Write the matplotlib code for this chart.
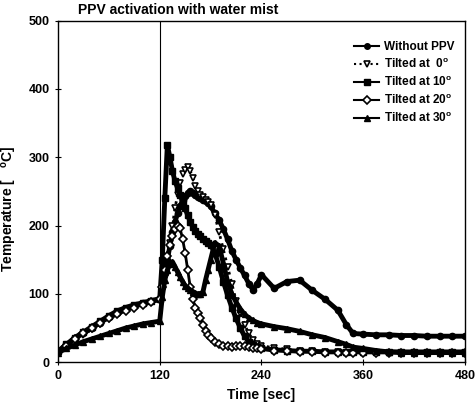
import matplotlib
matplotlib.use("Agg")
import matplotlib.pyplot as plt

plt.rcParams['font.family'] = ['Liberation Sans', 'DejaVu Sans']
plt.rcParams['font.weight'] = 'bold'
plt.rcParams['axes.labelweight'] = 'bold'
plt.rcParams['mathtext.fontset'] = 'custom'
plt.rcParams['mathtext.rm'] = 'Liberation Sans:bold'

# time axis shared by all curves [sec]
time = [0, 10, 20, 30, 40, 50, 60, 70, 80, 90, 100, 110, 120,
        123, 126, 129, 132, 135, 138, 141, 144, 147, 150, 153, 156, 159, 162, 165, 168, 171, 174, 177, 180,
        185, 190, 195, 200, 205, 210, 215, 220, 225, 230, 235, 240,
        255, 270, 285, 300, 315, 330, 340, 348, 360, 375, 390, 405, 420, 435, 450, 465, 480]

without_ppv = [15, 25, 35, 42, 50, 58, 66, 72, 78, 82, 86, 89, 92,
               110, 130, 150, 170, 190, 205, 218, 228, 237, 243, 247, 250, 248, 245, 242, 240, 238, 236, 233, 228,
               218, 208, 195, 180, 163, 150, 138, 127, 115, 106, 115, 128,
               108, 118, 120, 105, 92, 76, 55, 42, 41, 40, 40, 39, 39, 38, 38, 38, 38]

tilt_0 = [14, 22, 32, 40, 48, 56, 63, 70, 76, 80, 84, 88, 90,
          105, 125, 150, 175, 200, 225, 245, 262, 275, 282, 286, 280, 270, 258, 250, 245, 242, 238, 235, 230,
          215, 190, 165, 140, 115, 90, 72, 55, 42, 33, 27, 24,
          21, 19, 17, 16, 15, 15, 14, 14, 14, 14, 14, 14, 14, 14, 14, 14, 14]

tilt_10 = [16, 26, 36, 44, 52, 60, 68, 75, 80, 84, 87, 90, 93,
           150, 240, 318, 300, 280, 265, 255, 245, 235, 225, 215, 205, 198, 192, 188, 185, 180, 178, 175, 172,
           160, 140, 118, 98, 80, 64, 50, 38, 30, 25, 22, 20,
           18, 17, 16, 16, 15, 15, 15, 15, 15, 15, 15, 15, 15, 15, 15, 15, 15]

tilt_20 = [15, 24, 34, 42, 50, 57, 64, 70, 75, 80, 84, 88, 92,
           110, 135, 155, 172, 185, 195, 200, 196, 180, 160, 135, 110, 92, 80, 72, 65, 55, 46, 40, 35,
           30, 27, 24, 23, 22, 23, 24, 23, 22, 21, 20, 19,
           17, 16, 15, 15, 14, 14, 14, 14, 14, 14, 14, 14, 14, 14, 14, 14, 14]

tilt_30 = [14, 20, 25, 30, 34, 38, 42, 46, 50, 53, 56, 58, 60,
           95, 120, 135, 143, 147, 140, 132, 125, 118, 112, 108, 105, 103, 101, 100, 100, 103, 120, 135, 150,
           175, 170, 145, 118, 100, 88, 78, 70, 65, 61, 58, 56,
           52, 49, 45, 40, 36, 30, 26, 22, 20, 17, 15, 14, 14, 14, 14, 14, 14]

x_ticks = [0, 120, 240, 360, 480]
y_ticks = [0, 100, 200, 300, 400, 500]

fig = plt.figure(figsize=(4.75, 4.12), dpi=100)
ax = fig.add_axes([0.122, 0.121, 0.857, 0.829])

ax.plot(time, without_ppv, color='k', lw=3.5, marker='o', ms=4.5, label='Without PPV')
ax.plot(time, tilt_0, color='k', lw=2, ls=':', marker='v', ms=4.5, mfc='white', mew=1.2,
        label='Tilted at  0$^\\mathrm{o}$')
ax.plot(time, tilt_10, color='k', lw=3.5, marker='s', ms=4.5, label='Tilted at 10$^\\mathrm{o}$')
ax.plot(time, tilt_20, color='k', lw=2, marker='D', ms=4, mfc='white', mew=1.2,
        label='Tilted at 20$^\\mathrm{o}$')
ax.plot(time, tilt_30, color='k', lw=3.5, marker='^', ms=4, label='Tilted at 30$^\\mathrm{o}$')

ax.axvline(120, color='k', lw=0.8)
ax.text(24, 506, 'PPV activation with water mist', fontsize=10, ha='left', va='bottom')

ax.set_xlim(0, 480)
ax.set_ylim(0, 500)
ax.set_xticks(x_ticks)
ax.set_yticks(y_ticks)
ax.tick_params(direction='inout', length=5, width=0.8, labelsize=9)
for s in ax.spines.values():
    s.set_linewidth(1.0)

ax.set_xlabel('Time [sec]', fontsize=10)
ax.set_ylabel('Temperature [   $^\\mathrm{o}$C]', fontsize=10)
ax.yaxis.set_label_coords(-0.095, 0.45)

leg = ax.legend(loc='upper left', bbox_to_anchor=(0.7, 0.97), frameon=False, fontsize=8.5,
                handlelength=2.2, labelspacing=0.35, handletextpad=0.4)
for h in leg.get_lines():
    h.set_linewidth(1.5)
    h.set_markersize(4)

fig.savefig('out.png', dpi=100)
